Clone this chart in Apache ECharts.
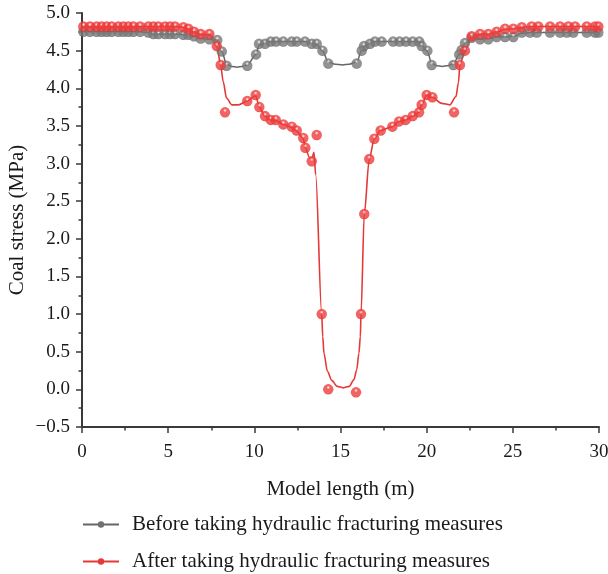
<!DOCTYPE html>
<html>
<head>
<meta charset="utf-8">
<script src="https://cdn.jsdelivr.net/npm/echarts@6/dist/echarts.min.js"></script>
<style>
  html, body { margin: 0; padding: 0; background: #fff; }
  #chart { width: 608px; height: 574px; }
</style>
</head>
<body>
<div id="chart"></div>
<script>
// Series names
const seriesNames = [
  'Before taking hydraulic fracturing measures',
  'After taking hydraulic fracturing measures'
];

// Measured points before fracturing: [model length (m), coal stress (MPa)]
const beforePoints = [
  [0.08, 4.75], [0.46, 4.75], [0.85, 4.75], [1.14, 4.75], [1.43, 4.75], [1.72, 4.75],
  [2.11, 4.75], [2.40, 4.75], [2.69, 4.75], [2.98, 4.75], [3.37, 4.75], [3.85, 4.74],
  [4.14, 4.72], [4.43, 4.72], [4.82, 4.72], [5.11, 4.72], [5.40, 4.72], [5.88, 4.71],
  [6.17, 4.71], [6.50, 4.69], [6.89, 4.66], [7.39, 4.65], [7.85, 4.64], [8.11, 4.49],
  [8.39, 4.30], [9.59, 4.30], [10.10, 4.45], [10.27, 4.59], [10.62, 4.59], [10.95, 4.62],
  [11.26, 4.62], [11.68, 4.62], [12.17, 4.62], [12.46, 4.62], [12.94, 4.62], [13.33, 4.59],
  [13.62, 4.59], [13.95, 4.50], [14.29, 4.33], [15.94, 4.33], [16.23, 4.50], [16.36, 4.56],
  [16.71, 4.59], [17.00, 4.62], [17.39, 4.62], [18.05, 4.62], [18.43, 4.62], [18.80, 4.62],
  [19.19, 4.62], [19.57, 4.62], [19.71, 4.56], [20.04, 4.50], [20.29, 4.31], [21.55, 4.31],
  [21.89, 4.45], [22.03, 4.51], [22.22, 4.60], [22.61, 4.67], [23.10, 4.65], [23.58, 4.65],
  [24.06, 4.68], [24.55, 4.68], [25.03, 4.68], [25.52, 4.74], [26.00, 4.74], [26.39, 4.74],
  [27.16, 4.74], [27.74, 4.74], [28.13, 4.74], [28.51, 4.74], [29.29, 4.74], [29.77, 4.74],
  [29.96, 4.74]
];

// Fitted curve before fracturing
const beforeCurve = [
  [0.08, 4.75], [3.37, 4.75], [3.85, 4.74], [4.14, 4.72], [5.40, 4.72], [6.17, 4.71],
  [6.50, 4.69], [6.89, 4.66], [7.39, 4.65], [7.85, 4.64], [8.11, 4.49], [8.39, 4.32],
  [8.7, 4.29], [9.0, 4.28], [9.3, 4.29], [9.59, 4.31], [10.10, 4.45], [10.27, 4.57],
  [10.62, 4.60], [10.95, 4.62], [12.94, 4.62], [13.33, 4.60], [13.62, 4.58], [13.95, 4.50],
  [14.29, 4.35], [14.7, 4.32], [15.1, 4.31], [15.5, 4.32], [15.94, 4.35], [16.23, 4.50],
  [16.36, 4.56], [16.71, 4.60], [17.00, 4.62], [19.57, 4.62], [19.71, 4.57], [20.04, 4.49],
  [20.29, 4.33], [20.6, 4.30], [20.9, 4.29], [21.2, 4.30], [21.55, 4.32], [21.89, 4.45],
  [22.03, 4.52], [22.22, 4.60], [22.61, 4.66], [23.10, 4.65], [23.58, 4.66], [24.06, 4.68],
  [25.03, 4.69], [25.52, 4.73], [26.00, 4.74], [29.96, 4.74]
];

// Measured points after fracturing
const afterPoints = [
  [0.08, 4.82], [0.46, 4.82], [0.85, 4.82], [1.14, 4.82], [1.43, 4.82], [1.72, 4.82],
  [2.11, 4.82], [2.40, 4.82], [2.69, 4.82], [2.98, 4.82], [3.37, 4.82], [3.85, 4.82],
  [4.14, 4.82], [4.43, 4.82], [4.82, 4.82], [5.11, 4.82], [5.40, 4.82], [5.88, 4.81],
  [6.17, 4.79], [6.50, 4.75], [6.89, 4.72], [7.39, 4.72], [7.82, 4.56], [8.05, 4.31],
  [8.30, 3.68], [9.59, 3.83], [10.08, 3.91], [10.29, 3.75], [10.62, 3.63], [10.95, 3.58],
  [11.24, 3.58], [11.68, 3.52], [12.17, 3.49], [12.46, 3.44], [12.84, 3.34], [12.96, 3.21],
  [13.33, 3.03], [13.62, 3.38], [13.91, 1.00], [14.29, 0.00], [15.90, -0.04], [16.19, 1.00],
  [16.38, 2.33], [16.67, 3.06], [16.96, 3.33], [17.33, 3.44], [18.01, 3.49], [18.40, 3.56],
  [18.78, 3.58], [19.19, 3.63], [19.56, 3.68], [19.71, 3.78], [20.00, 3.91], [20.33, 3.88],
  [21.59, 3.68], [21.93, 4.31], [22.22, 4.50], [22.61, 4.69], [23.10, 4.72], [23.58, 4.72],
  [24.06, 4.75], [24.55, 4.79], [25.03, 4.79], [25.52, 4.81], [26.09, 4.82], [26.48, 4.82],
  [27.16, 4.82], [27.74, 4.82], [28.22, 4.82], [28.61, 4.82], [29.29, 4.82], [29.77, 4.82],
  [29.96, 4.82]
];

// Fitted curve after fracturing
const afterCurve = [
  [0.08, 4.82], [5.40, 4.82], [5.88, 4.81], [6.17, 4.79], [6.50, 4.75], [6.89, 4.72],
  [7.39, 4.71], [7.82, 4.56], [8.05, 4.31], [8.19, 4.09], [8.39, 3.87], [8.69, 3.78],
  [9.07, 3.78], [9.59, 3.83], [10.08, 3.90], [10.29, 3.75], [10.62, 3.63], [10.95, 3.58],
  [11.24, 3.57], [11.68, 3.52], [12.17, 3.48], [12.46, 3.43], [12.84, 3.33], [12.96, 3.21],
  [13.20, 3.08], [13.33, 3.06], [13.46, 3.15], [13.56, 2.85], [13.91, 1.00],
  [13.97, 0.70], [14.04, 0.48], [14.24, 0.24], [14.49, 0.12], [14.81, 0.04],
  [15.16, 0.02], [15.51, 0.04], [15.78, 0.13], [15.94, 0.26], [16.07, 0.48], [16.15, 0.70],
  [16.19, 1.00], [16.38, 2.33], [16.67, 3.06], [16.96, 3.33], [17.33, 3.44], [18.01, 3.49],
  [18.40, 3.56], [18.78, 3.58], [19.19, 3.63], [19.56, 3.68], [19.71, 3.78], [20.00, 3.91],
  [20.33, 3.88], [20.87, 3.80], [21.35, 3.78], [21.70, 3.89], [21.84, 4.07], [21.93, 4.31],
  [22.22, 4.50], [22.61, 4.69], [23.10, 4.72], [23.58, 4.72], [24.06, 4.75], [24.55, 4.78],
  [25.03, 4.79], [25.52, 4.81], [26.09, 4.82], [29.96, 4.82]
];

// Axis ranges
const xRange = { min: 0, max: 30, step: 5 };
const yRange = { min: -0.5, max: 5.0, step: 0.5 };

const FONT = '"Liberation Serif", "DejaVu Serif", serif';
const AXIS_COLOR = '#3a3a3a';
const TEXT_COLOR = '#1a1a1a';

function ball(base, dark) {
  return {
    type: 'radial', x: 0.5, y: 0.32, r: 0.7,
    colorStops: [
      { offset: 0, color: '#ffffff' },
      { offset: 0.25, color: base },
      { offset: 0.8, color: base },
      { offset: 1, color: dark }
    ]
  };
}
const grayBall = ball('#777777', '#555555');
const redBall = ball('#ee3b3b', '#c62828');

const chart = echarts.init(document.getElementById('chart'), null, { renderer: 'canvas' });

chart.setOption({
  animation: false,
  backgroundColor: '#ffffff',
  textStyle: { fontFamily: FONT },
  grid: { left: 82, right: 9, top: 13, bottom: 147, containLabel: false, outerBoundsMode: 'none' },
  legend: {
    orient: 'vertical',
    left: 82,
    top: 514,
    padding: 0,
    itemWidth: 36,
    itemHeight: 8,
    itemGap: 16,
    align: 'left',
    data: seriesNames,
    textStyle: { fontFamily: FONT, fontSize: 21, color: TEXT_COLOR, padding: [0, 0, 0, 8] }
  },
  xAxis: {
    type: 'value',
    min: xRange.min, max: xRange.max, interval: xRange.step,
    name: 'Model length (m)',
    nameLocation: 'middle',
    nameGap: 52,
    nameMoveOverlap: false,
    nameTextStyle: { fontFamily: FONT, fontSize: 21, color: TEXT_COLOR },
    axisLine: { show: true, onZero: false, lineStyle: { color: AXIS_COLOR, width: 2 } },
    axisTick: { show: true, inside: false, length: 6, lineStyle: { color: AXIS_COLOR, width: 1.5 } },
    minorTick: { show: true, splitNumber: 2, length: 3.5, lineStyle: { color: AXIS_COLOR, width: 1.5 } },
    axisLabel: { fontFamily: FONT, fontSize: 19, color: TEXT_COLOR, margin: 16 },
    splitLine: { show: false }
  },
  yAxis: {
    type: 'value',
    min: yRange.min, max: yRange.max, interval: yRange.step,
    name: 'Coal stress (MPa)',
    nameLocation: 'middle',
    nameGap: 54,
    nameMoveOverlap: false,
    nameTextStyle: { fontFamily: FONT, fontSize: 21, color: TEXT_COLOR },
    axisLine: { show: true, onZero: false, lineStyle: { color: AXIS_COLOR, width: 2 } },
    axisTick: { show: true, inside: false, length: 6, lineStyle: { color: AXIS_COLOR, width: 1.5 } },
    minorTick: { show: true, splitNumber: 2, length: 3.5, lineStyle: { color: AXIS_COLOR, width: 1.5 } },
    axisLabel: {
      fontFamily: FONT, fontSize: 19, color: TEXT_COLOR, margin: 12,
      formatter: v => v.toFixed(1).replace('-', '\u2212')
    },
    splitLine: { show: false }
  },
  series: [
    {
      name: seriesNames[0],
      type: 'line',
      data: beforeCurve,
      smooth: 0.35,
      smoothMonotone: 'x',
      showSymbol: false,
      symbol: 'circle',
      lineStyle: { color: '#666666', width: 1.5 },
      itemStyle: { color: '#707070' },
      z: 2
    },
    {
      name: seriesNames[1],
      type: 'line',
      data: afterCurve,
      smooth: 0.3,
      smoothMonotone: 'x',
      showSymbol: false,
      symbol: 'circle',
      lineStyle: { color: '#e53935', width: 1.6 },
      itemStyle: { color: '#e53935' },
      z: 3
    },
    {
      name: seriesNames[0],
      type: 'scatter',
      data: beforePoints,
      symbol: 'circle',
      symbolSize: 10.5,
      itemStyle: { color: grayBall },
      z: 4
    },
    {
      name: seriesNames[1],
      type: 'scatter',
      data: afterPoints,
      symbol: 'circle',
      symbolSize: 10.5,
      itemStyle: { color: redBall },
      z: 5
    }
  ]
});
</script>
</body>
</html>
